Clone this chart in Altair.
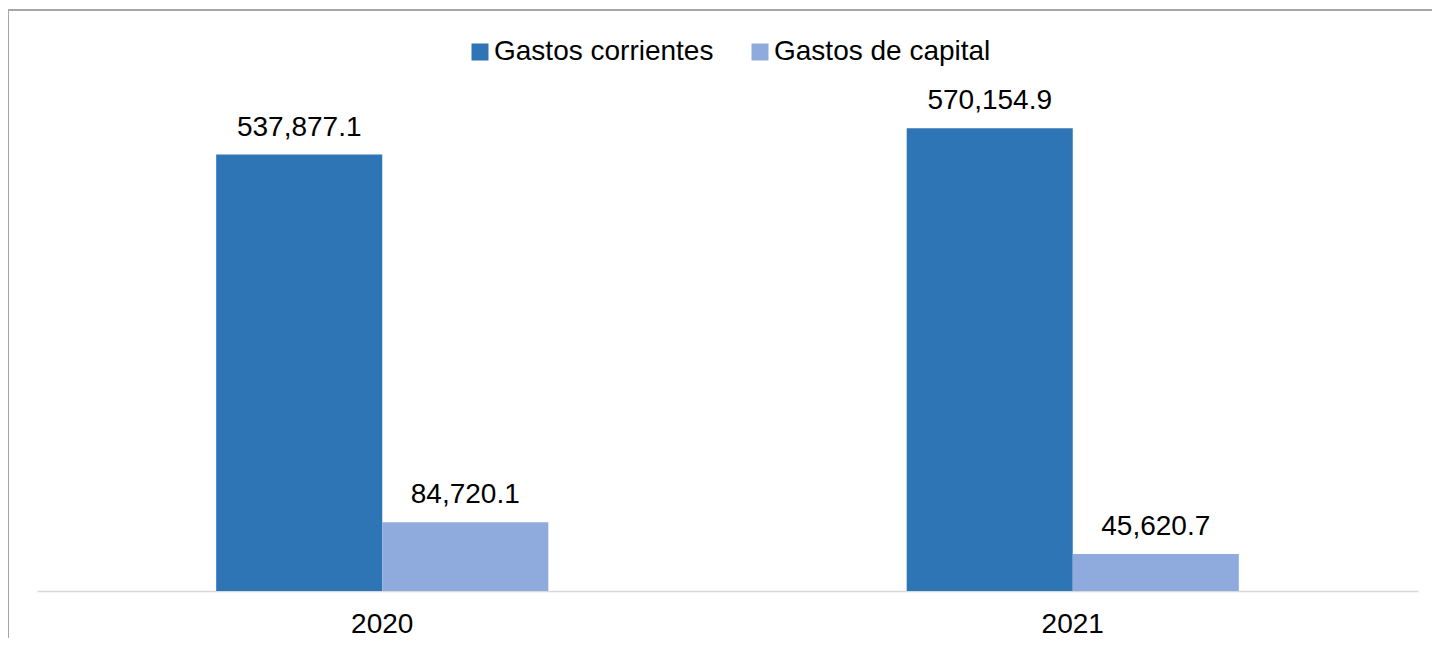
import altair as alt
import pandas as pd

years = ["2020", "2021"]
series = ["Gastos corrientes", "Gastos de capital"]
corrientes = [537877.1, 570154.9]
capital = [84720.1, 45620.7]
colors = ["#2E75B6", "#8FAADC"]

rows = []
for i, y in enumerate(years):
    rows.append({"year": y, "serie": series[0], "value": corrientes[i]})
    rows.append({"year": y, "serie": series[1], "value": capital[i]})
df = pd.DataFrame(rows)

FONT = "Liberation Sans"
W, H = 1424, 628
BASE = 581
BORDER = "#A6A6A6"

x = alt.X("year:N", sort=years,
          scale=alt.Scale(range=[29, 1410], paddingInner=0.519, paddingOuter=0.2595),
          axis=alt.Axis(title=None, labelAngle=0, ticks=False, domain=True,
                        domainColor="#D9D9D9", domainWidth=1.5,
                        labelFont=FONT, labelFontSize=28, labelColor="#000000",
                        labelPadding=19, offset=-(H - BASE)))
xo = alt.XOffset("serie:N", sort=series,
                 scale=alt.Scale(paddingInner=0, paddingOuter=0))
y = alt.Y("value:Q", scale=alt.Scale(domain=[0, 700000], range=[BASE, BASE - 0.0008115 * 700000]),
          axis=None)

bars = alt.Chart(df).mark_bar().encode(
    x=x, xOffset=xo, y=y,
    color=alt.Color("serie:N", sort=series,
                    scale=alt.Scale(domain=series, range=colors),
                    legend=alt.Legend(title=None, orient="none", direction="horizontal",
                                      legendX=458, legendY=28,
                                      symbolType="square", symbolSize=289,
                                      symbolStrokeWidth=0, labelFont=FONT,
                                      labelFontSize=28, labelColor="#000000",
                                      labelOffset=0, columnPadding=32,
                                      labelLimit=500, padding=0)),
)

labels = alt.Chart(df).mark_text(font=FONT, fontSize=28, baseline="alphabetic",
                                 dy=-19, color="#000000").encode(
    x=x, xOffset=xo, y=y,
    text=alt.Text("value:Q", format=",.1f"),
)

# chart frame: top and left edges (right/bottom edges lie outside the window)
frame_top = alt.Chart(df).mark_rule(color=BORDER, strokeWidth=1.5).encode(
    x=alt.value(0), x2=alt.value(W), y=alt.value(0))
frame_left = alt.Chart(df).mark_rule(color=BORDER, strokeWidth=1.5).encode(
    x=alt.value(0), y=alt.value(0), y2=alt.value(H))

chart = alt.layer(frame_top, frame_left, bars, labels).properties(
    width=W, height=H,
    autosize=alt.AutoSizeParams(type="none"),
    padding={"left": 0, "top": 2, "right": 0, "bottom": 0},
).configure_view(stroke=None).configure(background="white")

chart.save("out.html", embed_options={"renderer": "svg", "actions": False})
